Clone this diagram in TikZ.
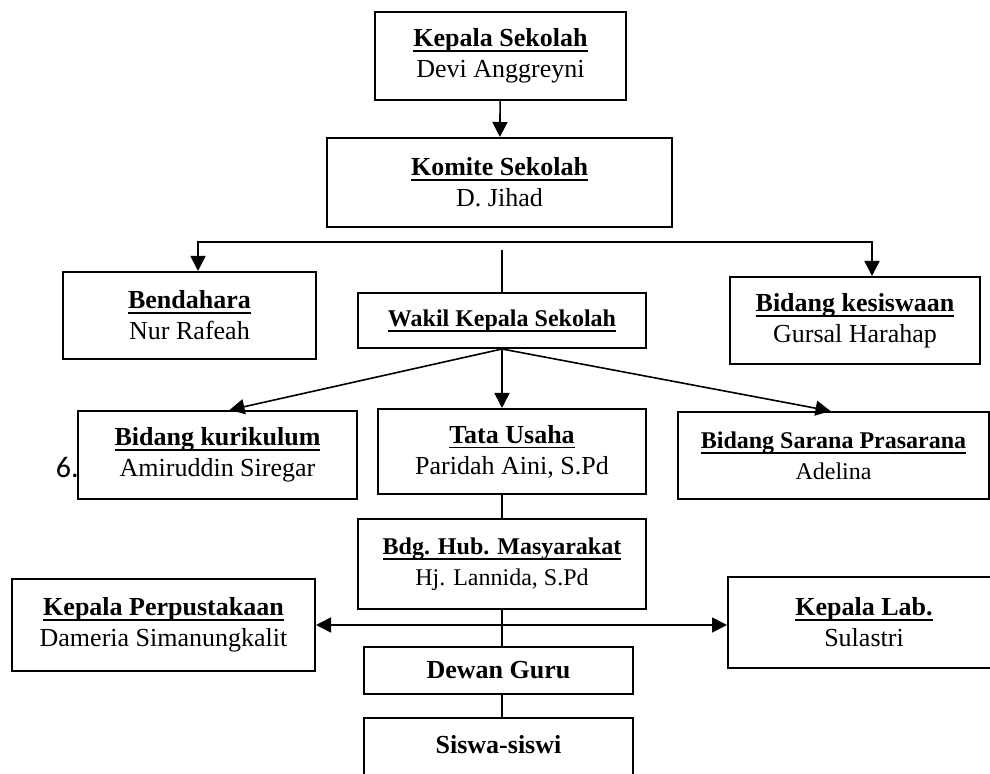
\documentclass[tikz,border=0pt]{standalone}
\usepackage{fontspec}
\setmainfont{Liberation Serif}
\newfontfamily\listfont{Carlito}
\usepackage{tikz}
\usetikzlibrary{arrows.meta}
\tikzstyle{unitbox}=[rectangle, line width=1pt, draw=black, align=center, inner sep=2pt, font=\fontsize{13}{15.5}\selectfont]
\tikzstyle{smallbox}=[unitbox, font=\fontsize{12}{15.5}\selectfont]
\newlength{\headwd}
\newcommand{\head}[1]{\settowidth{\headwd}{\textbf{#1}}\textbf{#1}\hspace{-\headwd}\rule[-2.7pt]{\headwd}{0.9pt}}

\begin{document}
\begin{tikzpicture}[x=0.5pt,y=-0.5pt,>={Triangle[length=7.5pt,width=7.5pt]},line width=0.8pt]
     \useasboundingbox (0,0) rectangle (990,774);
     \clip (0,0) rectangle (990,774);
     % boxes
     \node (KS) [unitbox, minimum width=125.5pt, minimum height=44pt] at (500.5,56) {\head{Kepala Sekolah}\\Devi Anggreyni};
     \node (KM) [unitbox, minimum width=172.5pt, minimum height=44.5pt] at (499.5,182.5) {\head{Komite Sekolah}\\D. Jihad};
     \node (BD) [unitbox, minimum width=126.5pt, minimum height=43.5pt] at (189.5,315.5) {\head{Bendahara}\\Nur Rafeah};
     \node (WK) [smallbox, minimum width=144pt, minimum height=27.5pt] at (502,320.5) {\head{Wakil Kepala Sekolah}};
     \node (KES) [unitbox, minimum width=125pt, minimum height=43.5pt] at (855,320.5) {\head{Bidang kesiswaan}\\Gursal Harahap};
     \node (KUR) [unitbox, minimum width=139.5pt, minimum height=44pt] at (217.5,455) {\head{Bidang kurikulum}\\Amiruddin Siregar};
     \node (TU) [unitbox, minimum width=134pt, minimum height=42.5pt] at (512,451.5) {\head{Tata Usaha}\\Paridah Aini, S.Pd};
     \node (SAR) [smallbox, minimum width=155.5pt, minimum height=43.5pt] at (833.5,455.5) {\head{Bidang Sarana Prasarana}\\Adelina};
     \node (HUB) [smallbox, minimum width=144pt, minimum height=45pt] at (502,564) {\head{Bdg. Hub. Masyarakat}\\Hj. Lannida, S.Pd};
     \node (PERP) [unitbox, minimum width=151.5pt, minimum height=46pt] at (163.5,625) {\head{Kepala Perpustakaan}\\Dameria Simanungkalit};
     \node (LAB) [unitbox, minimum width=136pt, minimum height=45.5pt] at (864,622.5) {\head{Kepala Lab.}\\Sulastri};
     \node (DG) [unitbox, minimum width=134.5pt, minimum height=23.5pt] at (498.5,670.5) {\textbf{Dewan Guru}};
     \node (SW) [unitbox, minimum width=134.5pt, minimum height=42pt] at (498.5,760) {\textbf{Siswa-siswi}\\~};
     \node (six) [anchor=base west, inner sep=0pt, font=\listfont\fontsize{15}{17}\selectfont] at (55,478) {6.};
     % connectors
     \coordinate (barL) at (198,242);
     \coordinate (barR) at (872,242);
     \coordinate (barM) at (502,250);
     \draw[->] (KS) -- (KM);
     \draw[<->] (barL |- BD.north) -- (barL) -- (barR) -- (barR |- KES.north);
     \draw (barM) -- (WK);
     \path[->]
     (WK.south) edge ([xshift=6pt]KUR.north)
     (WK.south) edge (TU.north -| WK.south)
     (WK.south) edge ([xshift=-1.5pt]SAR.north);
     \draw (TU.south -| HUB.north) -- (HUB.north);
     \draw (HUB.south) -- (HUB.south |- DG.north);
     \draw (DG.south -| HUB.south) -- (SW.north -| HUB.south);
     \draw[<->] (PERP.east) -- (PERP.east -| LAB.west);
  \end{tikzpicture}
\end{document}
